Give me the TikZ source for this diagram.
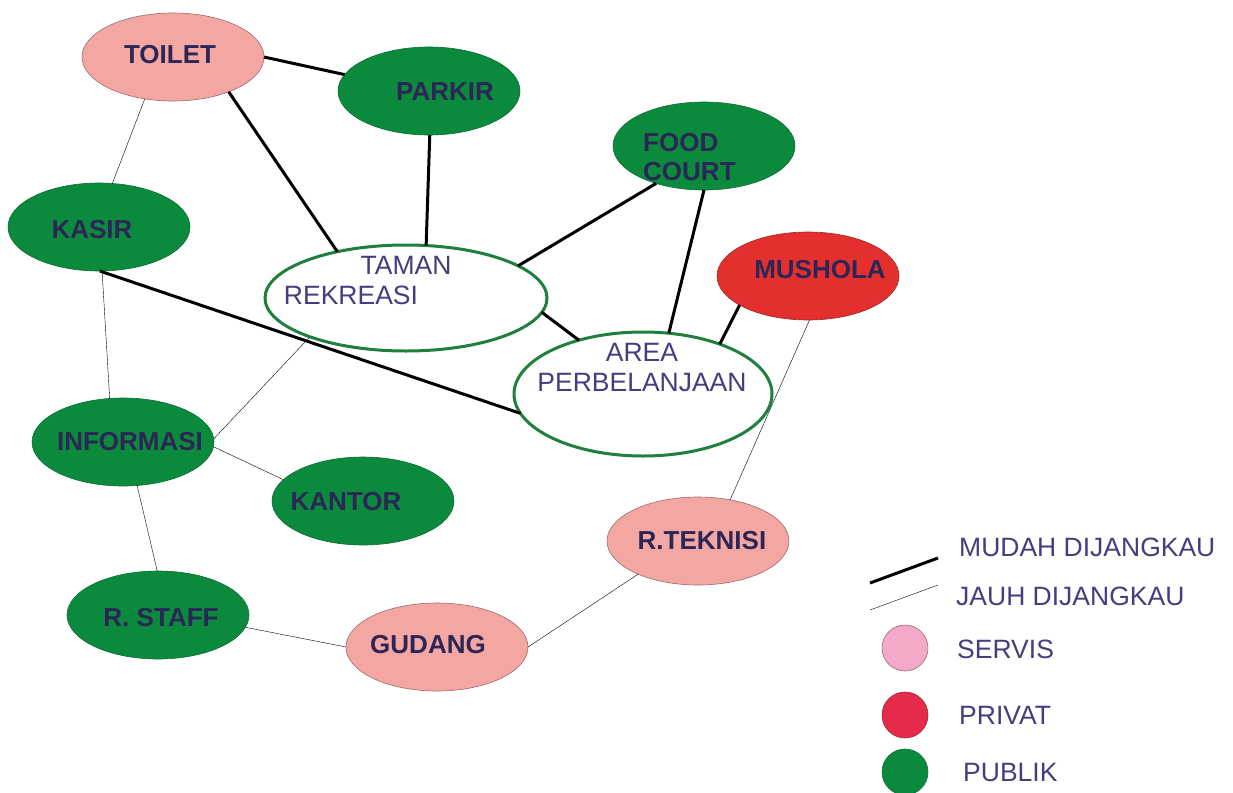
\documentclass[tikz,border=0pt]{standalone}
\usepackage{fontspec}
\setmainfont{Liberation Sans}
\usetikzlibrary{shapes.geometric}
\definecolor{pgreen}{HTML}{0B8A3E}
\definecolor{pgreenD}{HTML}{0A6E33}
\definecolor{spink}{HTML}{F4A6A3}
\definecolor{spinkD}{HTML}{9C6B6B}
\definecolor{pred}{HTML}{E3302E}
\definecolor{predD}{HTML}{9A2A2A}
\definecolor{zgreen}{HTML}{1F7F3C}
\definecolor{txtD}{HTML}{2C2656}
\definecolor{txtL}{HTML}{4A3A80}
\definecolor{lgpink}{HTML}{F4A9C8}
\definecolor{lgred}{HTML}{E52A4C}
\definecolor{thin}{HTML}{7A7A7A}
\begin{document}
\begin{tikzpicture}[x=1pt,y=-1pt,
  room/.style={ellipse, inner sep=0pt, outer sep=0pt, minimum width=182pt, minimum height=88pt},
  publik/.style={room, fill=pgreen, draw=pgreenD, line width=0.6pt},
  servis/.style={room, fill=spink, draw=spinkD, line width=0.6pt},
  privat/.style={room, fill=pred, draw=predD, line width=0.6pt},
  zone/.style={ellipse, inner sep=0pt, outer sep=0pt, draw=zgreen, line width=3pt, fill=white},
  lbl/.style={text=txtD, font=\fontsize{26}{29}\selectfont\bfseries, inner sep=0pt},
  lbll/.style={text=txtL, font=\fontsize{26.5}{30}\selectfont, inner sep=0pt},
  mudah/.style={line width=3pt, black},
  jauh/.style={line width=0.7pt, thin},
  dot/.style={circle, inner sep=0pt, outer sep=0pt, minimum size=46pt, line width=0.6pt}
]
\useasboundingbox (0,0) rectangle (1233,792);
\fill[white] (0,0) rectangle (1233,792);

% rooms
\node[servis] (toilet) at (173,57) {};
\node[publik] (parkir) at (429,91) {};
\node[publik] (kasir) at (99,227) {};
\node[publik] (food) at (704,146) {};
\node[privat] (mushola) at (808,276) {};
\node[zone, minimum width=282pt, minimum height=106pt] (taman) at (406,298) {};
\node[zone, minimum width=258pt, minimum height=124pt] (area) at (643,394) {};
\node[publik] (info) at (123,442) {};
\node[publik] (kantor) at (363,501) {};
\node[servis] (teknisi) at (698,541) {};
\node[publik] (staff) at (158,615) {};
\node[servis] (gudang) at (437,647) {};

% labels
\node[lbl] (toiletL) at (170,55) {TOILET};
\node[lbl] (parkirL) at (445,92) {PARKIR};
\node[lbl] (kasirL) at (92,230) {KASIR};
\node[lbl, align=left, anchor=west] (foodL) at (643,157.5) {FOOD\\COURT};
\node[lbl] (musholaL) at (820,270) {MUSHOLA};
\node[lbll] (tamanL1) at (406,265) {TAMAN};
\node[lbll] (tamanL2) at (351,295) {REKREASI};
\node[lbll, align=center] (areaL) at (642,368) {AREA\\PERBELANJAAN};
\node[lbl] (infoL) at (130,442) {INFORMASI};
\node[lbl] (kantorL) at (346,502) {KANTOR};
\node[lbl] (teknisiL) at (702,541) {R.TEKNISI};
\node[lbl] (staffL) at (161,618) {R. STAFF};
\node[lbl] (gudangL) at (428,645) {GUDANG};

% mudah dijangkau
\draw[mudah] (toilet.0) -- (parkir.169);
\draw[mudah] (toilet.-32.7) -- (taman.146.5);
\draw[mudah] (parkir.-89) -- (taman.69.6);
\draw[mudah] (taman.16.3) -- (food.-142.5);
\draw[mudah] (food.-90) -- (area.67.7);
\draw[mudah] (mushola.-157.8) -- (area.33.5);
\draw[mudah] (taman.-6.2) -- (area.140.5);
\draw[mudah] (kasir.-89) -- (area.-171.5);

% jauh dijangkau
\draw[jauh] (toilet.-124.9) -- (kasir.73.5);
\draw[jauh] (kasir.-86) -- (info.107.6);
\draw[jauh] (info.2) -- (taman.-158.7);
\draw[jauh] (info.-3) -- (kantor.165.5);
\draw[jauh] (info.-72.7) -- (staff.91);
\draw[jauh] (staff.-8.4) -- (gudang.180);
\draw[jauh] (gudang.0) -- (teknisi.-151.1);
\draw[jauh] (teknisi.52.3) -- (mushola.-88);

% legend
\coordinate (m1) at (870,583);
\coordinate (m2) at (938,558);
\coordinate (j1) at (870,610);
\coordinate (j2) at (938,585);
\draw[mudah] (m1) -- (m2);
\draw[jauh] (j1) -- (j2);
\node[lbll, anchor=west] (mudahL) at (959,547) {MUDAH DIJANGKAU};
\node[lbll, anchor=west] (jauhL) at (956,596) {JAUH DIJANGKAU};
\node[dot, fill=lgpink, draw=spinkD] (lgS) at (905,648) {};
\node[dot, fill=lgred, draw=predD] (lgP) at (905,715) {};
\node[dot, fill=pgreen, draw=pgreenD] (lgG) at (905,772) {};
\node[lbll, anchor=west] (servisL) at (957,649) {SERVIS};
\node[lbll, anchor=west] (privatL) at (959,715) {PRIVAT};
\node[lbll, anchor=west] (publikL) at (963,773) {PUBLIK};
\end{tikzpicture}
\end{document}
